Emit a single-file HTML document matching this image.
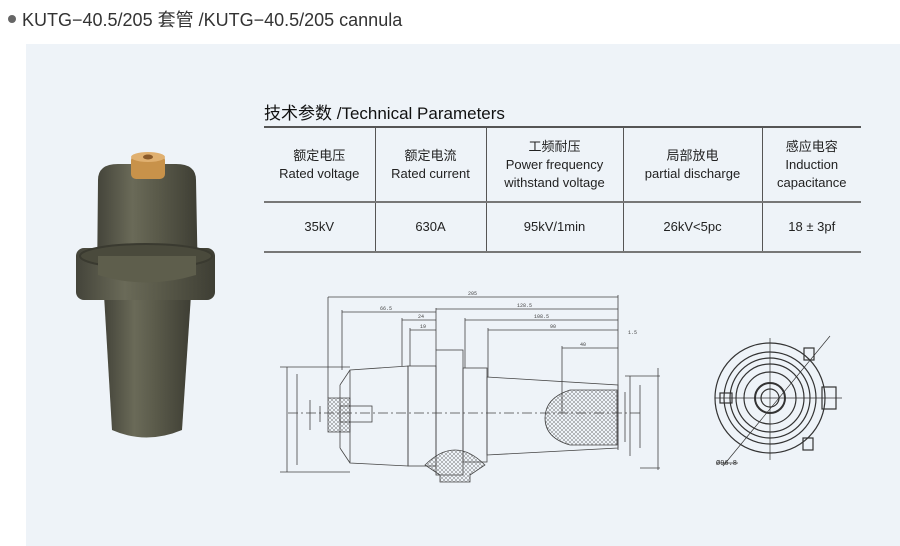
<!DOCTYPE html>
<html><head><meta charset="utf-8"><style>
body{margin:0;width:900px;height:546px;background:#fff;position:relative;overflow:hidden;font-family:"Liberation Sans","Noto Sans CJK SC",sans-serif;color:#222}
.title{position:absolute;left:8px;top:6px;font-size:18px;color:#333}
.title:before{content:"";display:inline-block;width:8px;height:8px;border-radius:50%;background:#666;margin-right:6px;vertical-align:3px}
.panel{position:absolute;left:26px;top:44px;width:874px;height:502px;background:#eef3f8}
.h{position:absolute;left:264px;top:99px;font-size:17px;color:#111}
table{position:absolute;left:264px;top:126px;width:597px;border-collapse:collapse;font-size:13px;text-align:center;line-height:18px;table-layout:fixed}
td{border-left:1px solid #555;border-right:1px solid #555;padding:0}
td:first-child{border-left:none}td:last-child{border-right:none}
tr.a td{border-top:2px solid #555;border-bottom:2px solid #777;height:73px}
tr.b td{border-bottom:2px solid #777;height:48px}
</style></head><body>
<div class="title">KUTG−40.5/205 套管 /KUTG−40.5/205 cannula</div>
<div class="panel"></div>
<div class="h">技术参数 /Technical Parameters</div>
<table>
<colgroup><col style="width:111px"><col style="width:111px"><col style="width:137px"><col style="width:139px"><col></colgroup>
<tr class="a"><td>额定电压<br>Rated voltage</td><td>额定电流<br>Rated current</td><td>工频耐压<br>Power frequency<br>withstand voltage</td><td>局部放电<br>partial discharge</td><td>感应电容<br>Induction<br>capacitance</td></tr>
<tr class="b"><td>35kV</td><td>630A</td><td>95kV/1min</td><td>26kV&lt;5pc</td><td>18 ± 3pf</td></tr>
</table>
<svg width="900" height="546" style="position:absolute;left:0;top:0">
<defs><pattern id="hx" width="4" height="4" patternUnits="userSpaceOnUse"><path d="M0 4L4 0M0 0L4 4" stroke="#777" stroke-width="0.5"/></pattern>
<linearGradient id="g" x1="0" x2="1"><stop offset="0" stop-color="#44443a"/><stop offset=".35" stop-color="#6a6a58"/><stop offset=".6" stop-color="#5a5a4a"/><stop offset="1" stop-color="#3e3e34"/></linearGradient></defs>
<!-- photo -->
<path d="M104 295 L191 295 L182 430 Q146 445 112 430 Z" fill="url(#g)"/>
<path d="M98 180 Q98 164 118 164 L176 164 Q196 164 196 180 L198 285 L97 285 Z" fill="url(#g)"/>
<rect x="76" y="248" width="139" height="52" rx="8" fill="url(#g)"/>
<ellipse cx="146" cy="256" rx="66" ry="12" fill="#4a4a3c" stroke="#3a3a30" stroke-width="2"/>
<path d="M98 256 L98 275 Q146 290 196 275 L196 256 Z" fill="#5e5e4c"/>
<rect x="131" y="155" width="34" height="24" rx="5" fill="#c8924a"/>
<ellipse cx="148" cy="157" rx="17" ry="5" fill="#e0b070"/><ellipse cx="148" cy="157" rx="5" ry="2.5" fill="#8a5a2a"/>
<!-- side drawing -->
<g fill="none" stroke="#444" stroke-width="0.8">
<path d="M350 370 L408 366 L408 466 L350 463 Z M340 385 L350 370 M340 448 L350 463 M340 385 L340 448"/>
<rect x="408" y="366" width="28" height="100"/>
<rect x="436" y="350" width="27" height="125"/>
<rect x="463" y="368" width="24" height="94"/>
<path d="M487 377 L618 385 L618 448 L487 455 Z"/>
<path d="M328 398 L350 398 L350 432 L328 432 Z" fill="url(#hx)"/>
<rect x="340" y="406" width="32" height="16"/>
<path d="M617 390 L570 390 Q545 398 545 418 Q545 438 570 445 L617 445 Z" fill="url(#hx)"/>
<path d="M425 465 Q455 435 485 465 L470 475 L470 482 L440 482 L440 475 Z" fill="url(#hx)"/>
<line x1="288" y1="413" x2="640" y2="413" stroke-dasharray="10 3 2 3"/>
<path d="M328 297H618M436 309H618M465 320H618M488 330H618M562 348H618M342 312H436M402 320H436M410 330H436"/>
<path d="M328 297V398M618 295V450M436 308V350M465 318V368M488 328V377M562 346V413M342 310V370M402 318V366M410 328V366M436 308V320"/>
<path d="M287 367V472M297 374V465M310 400V430M320 406V422M630 376V456M640 385V448M625 392V442M658 368V470M280 367H350M280 472H350M625 376H660M640 468H660"/>
</g>
<g font-size="5" fill="#444" font-family="Liberation Mono,monospace"><text x="468" y="295">205</text><text x="517" y="307">128.5</text><text x="534" y="318">108.5</text><text x="550" y="328">90</text><text x="580" y="346">40</text><text x="380" y="310">66.5</text><text x="418" y="318">24</text><text x="420" y="328">19</text><text x="628" y="334">1.5</text></g>
<!-- end view -->
<g fill="none" stroke="#333" stroke-width="1.2">
<circle cx="770" cy="398" r="55"/><circle cx="770" cy="398" r="46"/><circle cx="770" cy="398" r="40"/><circle cx="770" cy="398" r="34"/><circle cx="770" cy="398" r="26"/><circle cx="770" cy="398" r="15" stroke-width="2"/><circle cx="770" cy="398" r="9"/>
<path d="M715 398H842M770 338V460M723 466L830 336" stroke-width="0.7"/>
<rect x="720" y="393" width="12" height="10"/><rect x="804" y="348" width="10" height="12"/><rect x="803" y="438" width="10" height="12"/><rect x="822" y="387" width="14" height="22"/>
<path d="M716 463H738" stroke-width="0.7"/>
</g>
<text x="716" y="465" font-size="7" fill="#333" font-family="Liberation Mono,monospace">Ø96.8</text>
</svg>
</body></html>
